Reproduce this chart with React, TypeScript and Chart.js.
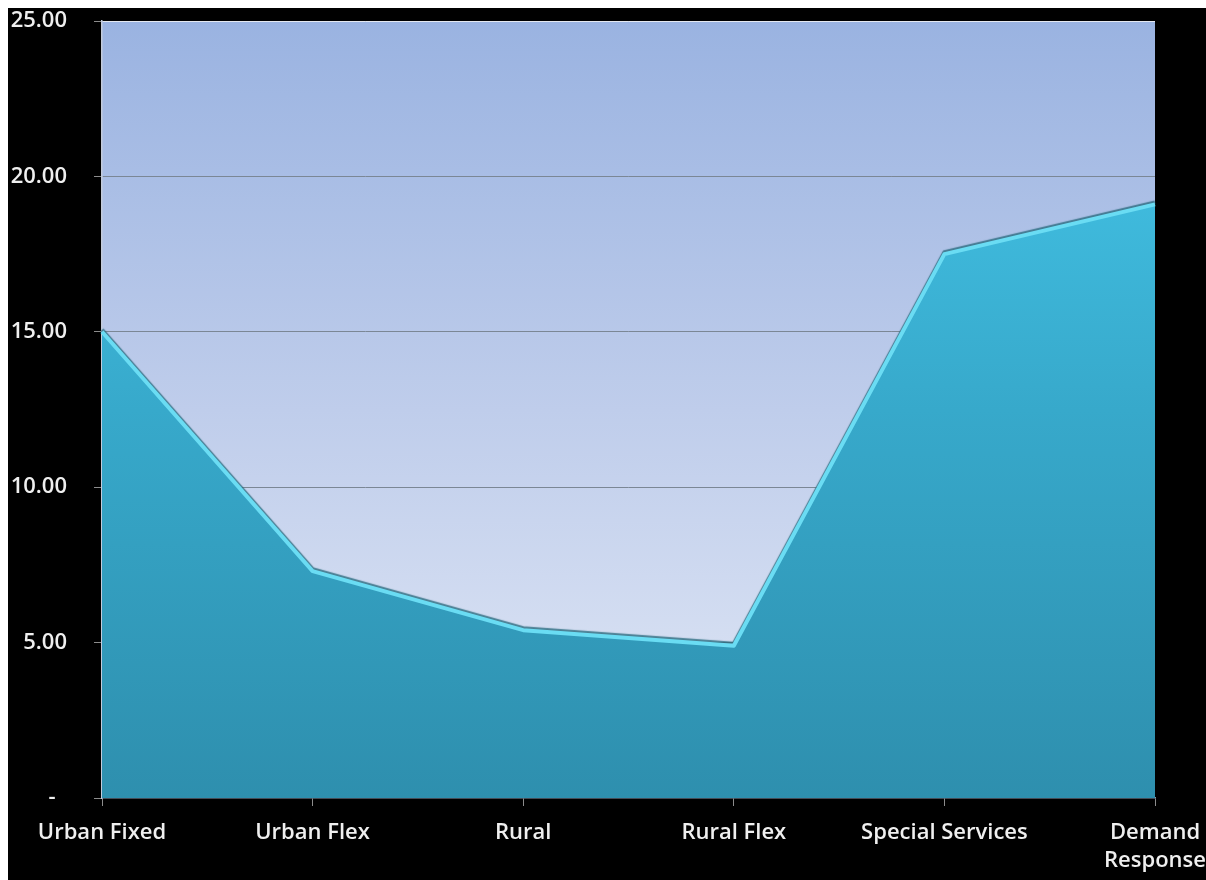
import React, { useEffect, useRef } from 'react';
import { Chart, registerables } from 'chart.js';
Chart.register(...registerables);

const categories: (string | string[])[] = ['Urban Fixed', 'Urban Flex', 'Rural', 'Rural Flex', 'Special Services', ['Demand', 'Response']];
const values: number[] = [15.0, 7.3, 5.4, 4.9, 17.5, 19.1];
const yMin = 0;
const yMax = 25;
const yStep = 5;

export default function App() {
  const ref = useRef<HTMLCanvasElement>(null);
  useEffect(() => {
    const plotBg = {
      id: 'plotBg',
      beforeDraw(chart: any) {
        const { ctx, chartArea: a } = chart;
        const g = ctx.createLinearGradient(0, a.top, 0, a.bottom);
        g.addColorStop(0, '#9ab3e1');
        g.addColorStop(0.5, '#bfcdeb');
        g.addColorStop(1, '#e2e9f6');
        ctx.save();
        ctx.fillStyle = g;
        ctx.fillRect(a.left, a.top, a.right - a.left, a.bottom - a.top);
        ctx.restore();
      },
    };
    const bevel = {
      id: 'bevel',
      beforeDatasetDraw(chart: any) {
        const ctx = chart.ctx;
        ctx.save();
        ctx.shadowColor = 'rgba(40,105,125,0.8)';
        ctx.shadowOffsetY = -2;
        ctx.shadowBlur = 1;
      },
      afterDatasetDraw(chart: any) {
        chart.ctx.restore();
      },
    };
    const font = { family: '"Open Sans", Lato, sans-serif', size: 22, weight: '600', lineHeight: 1.3 };
    const chart = new Chart(ref.current!, {
      type: 'line',
      data: {
        labels: categories as any,
        datasets: [
          {
            data: values,
            fill: 'origin',
            borderColor: '#6adcf3',
            borderWidth: 4,
            pointRadius: 0,
            tension: 0,
            borderJoinStyle: 'round',
            backgroundColor: (ctx: any) => {
              const a = ctx.chart.chartArea;
              if (!a) return '#38a9cb';
              const g = ctx.chart.ctx.createLinearGradient(0, a.top, 0, a.bottom);
              g.addColorStop(0, '#46c9ec');
              g.addColorStop(0.5, '#37a9cb');
              g.addColorStop(1, '#2e8fae');
              return g;
            },
          },
        ],
      },
      options: {
        animation: false,
        responsive: true,
        maintainAspectRatio: false,
        layout: { padding: { top: 13, right: 51, left: 0, bottom: 0 } },
        plugins: { legend: { display: false }, tooltip: { enabled: false } },
        scales: {
          x: {
            offset: false,
            afterFit(scale: any) {
              scale.height = 82;
              scale.paddingLeft = 0;
              scale.paddingRight = 0;
            },
            grid: { drawOnChartArea: false, drawTicks: true, tickLength: 8, tickColor: '#8c8c8c', offset: false },
            border: { display: true, color: '#8798ad', width: 1.5 },
            ticks: { color: '#efefef', font, padding: 12, maxRotation: 0, autoSkip: false },
          },
          y: {
            min: yMin,
            max: yMax,
            afterFit(scale: any) {
              scale.width = 94;
              scale.paddingTop = 0;
              scale.paddingBottom = 0;
            },
            grid: {
              color: (c: any) => (c.tick && c.tick.value === yMax ? '#e4e8f0' : c.tick && c.tick.value === yMin ? 'rgba(0,0,0,0)' : '#7b8795'),
              lineWidth: 1,
              tickLength: 8,
              tickColor: '#8c8c8c',
            },
            border: { display: true, color: '#c3cbdb', width: 1.5 },
            ticks: {
              stepSize: yStep,
              color: '#efefef',
              font,
              padding: 27,
              callback: (v: any) => (Number(v) === 0 ? '-  ' : Number(v).toFixed(2)),
            },
          },
        },
      },
      plugins: [plotBg, bevel],
    } as any);
    return () => chart.destroy();
  }, []);
  return (
    <div style={{ position: 'fixed', left: 8, top: 8, right: 0, bottom: 0, background: '#000' }}>
      <canvas ref={ref} />
    </div>
  );
}
